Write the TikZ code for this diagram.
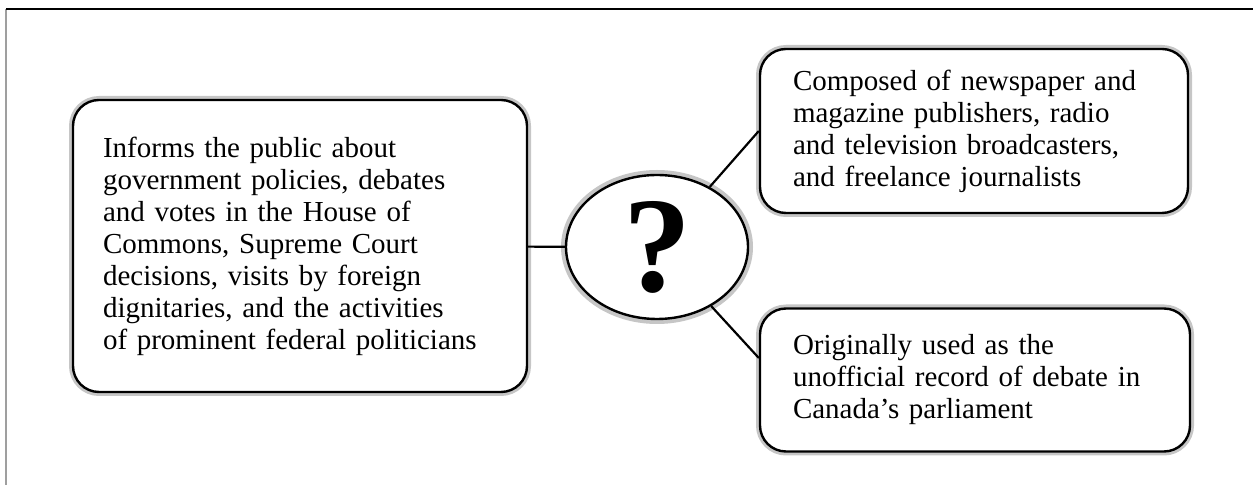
\documentclass[tikz,border=0pt]{standalone}
\usepackage{fontspec}
\setmainfont{Liberation Serif}
\usetikzlibrary{shapes.geometric}

\begin{document}
\begin{tikzpicture}[x=0.5pt,y=-0.5pt,
    box/.style={draw=black, line width=1.2pt, fill=white, rounded corners=13pt,
        preaction={draw=gray!45, line width=4pt},
        align=left, inner xsep=15pt, inner ysep=0pt,
        font=\fontsize{14.5}{16}\selectfont},
    link/.style={draw=black, line width=1.1pt}]
    \useasboundingbox (0,0) rectangle (1253,485);

    % page frame (top and left only)
    \draw[gray!75, line width=1pt] (6,485) -- (6,9);
    \draw[black, line width=0.6pt] (6,9) -- (1253,9);

    % boxes
    \node[box, text width=197pt, minimum height=146pt] (info) at (300,246)
        {Informs the public about\\
         government policies, debates\\
         and votes in the House of\\
         Commons, Supreme Court\\
         decisions, visits by foreign\\
         dignitaries, and the activities\\
         of prominent federal politicians};
    \node[box, ellipse, rounded corners=0pt, inner sep=0pt, minimum width=91pt, minimum height=72pt,
        preaction={draw=gray!45, line width=5pt},
        font=\fontsize{68}{68}\selectfont\bfseries] (q) at (657,247) {?};
    \node[box, inner xsep=16.5pt, text width=181pt, minimum height=82pt] (composed) at (974,131)
        {Composed of newspaper and\\
         magazine publishers, radio\\
         and television broadcasters,\\
         and freelance journalists};
    \node[box, inner xsep=16.5pt, text width=182pt, minimum height=71.5pt] (origin) at (975,380)
        {Originally used as the\\
         unofficial record of debate in\\
         Canada's parliament};

    % connectors
    \coordinate (originin) at ([yshift=11pt]origin.west);
    \draw[link] (info) -- (q);
    \draw[link] (q) -- (composed.west);
    \draw[link] (q) -- (originin);
\end{tikzpicture}
\end{document}
